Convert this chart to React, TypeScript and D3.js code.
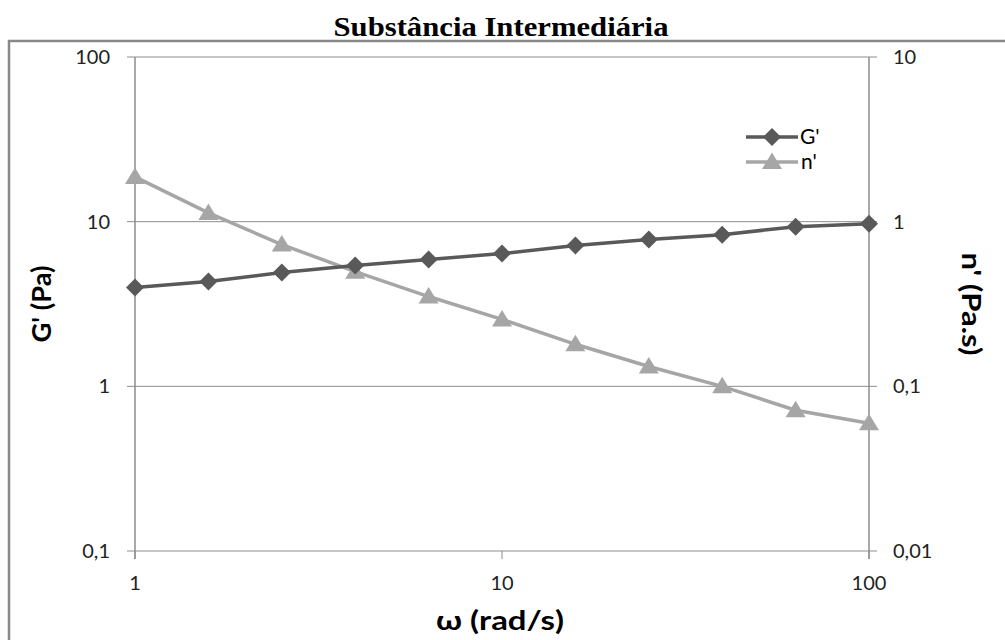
import * as d3 from "d3";
import React from "react";

// frequency sweep, 5 points per decade
const omega = [1, 1.585, 2.512, 3.981, 6.31, 10, 15.85, 25.12, 39.81, 63.1, 100];
const gPrime = [3.98, 4.33, 4.91, 5.41, 5.89, 6.4, 7.16, 7.78, 8.34, 9.32, 9.72];
const etaPrime = [1.87, 1.13, 0.726, 0.497, 0.351, 0.255, 0.18, 0.132, 0.1, 0.0716, 0.0597];

const xTicks = [1, 10, 100];
const leftTicks = [0.1, 1, 10, 100];
const rightTicks = [0.01, 0.1, 1, 10];

const W = 1005;
const H = 640;
const plot = { left: 135, right: 869, top: 57, bottom: 551 };

const DARK = "#595959";
const LIGHT = "#a6a6a6";
const GRID = "#8c8c8c";
const FONT = "Lato, 'Open Sans', sans-serif";

const fmt = (v: number) => String(v).replace(".", ",");

const diamond = (x: number, y: number, r: number) =>
    `M${x},${y - r}L${x + r},${y}L${x},${y + r}L${x - r},${y}Z`;
const triangle = (x: number, y: number, s: number) =>
    `M${x},${y - s * 0.95}L${x + s},${y + s * 0.7}L${x - s},${y + s * 0.7}Z`;

export default function App() {
    const x = d3.scaleLog().domain([1, 100]).range([plot.left, plot.right]);
    const yL = d3.scaleLog().domain([0.1, 100]).range([plot.bottom, plot.top]);
    const yR = d3.scaleLog().domain([0.01, 10]).range([plot.bottom, plot.top]);

    const gLine = d3.line<number>()
        .x((_, i) => x(omega[i]))
        .y(d => yL(d))(gPrime);
    const nLine = d3.line<number>()
        .x((_, i) => x(omega[i]))
        .y(d => yR(d))(etaPrime);

    const midY = (plot.top + plot.bottom) / 2;

    return (
        <svg width={W} height={H} style={{ position: "absolute", left: 0, top: 0, background: "#fff" }}>
            <rect x={9} y={41} width={1010} height={620} fill="none" stroke="#898989" strokeWidth={2.5} />

            <text x={501} y={36} textAnchor="middle" fontFamily="'Liberation Serif', 'Times New Roman', serif"
                fontWeight="bold" fontSize={27} textLength={335} lengthAdjust="spacingAndGlyphs">
                Substância Intermediária
            </text>

            {/* horizontal gridlines + tick marks both sides */}
            {leftTicks.map(t => (
                <line key={"g" + t} x1={plot.left - 8} x2={plot.right + 8} y1={yL(t)} y2={yL(t)}
                    stroke={GRID} strokeWidth={1} />
            ))}
            {/* axis lines */}
            <line x1={plot.left} x2={plot.left} y1={plot.top} y2={plot.bottom + 8} stroke={GRID} strokeWidth={1.5} />
            <line x1={plot.right} x2={plot.right} y1={plot.top} y2={plot.bottom + 8} stroke={GRID} strokeWidth={1.5} />
            {xTicks.map(t => (
                <line key={"xt" + t} x1={x(t)} x2={x(t)} y1={plot.bottom} y2={plot.bottom + 8}
                    stroke={GRID} strokeWidth={1} />
            ))}

            {/* tick labels */}
            {leftTicks.map(t => (
                <text key={"l" + t} x={plot.left - 25} y={yL(t)} dy="0.35em" textAnchor="end"
                    fontFamily={FONT} fontSize={20} fill="#222">{fmt(t)}</text>
            ))}
            {rightTicks.map(t => (
                <text key={"r" + t} x={plot.right + 24} y={yR(t)} dy="0.35em" textAnchor="start"
                    fontFamily={FONT} fontSize={20} fill="#222">{fmt(t)}</text>
            ))}
            {xTicks.map(t => (
                <text key={"x" + t} x={x(t)} y={plot.bottom + 32} dy="0.35em" textAnchor="middle"
                    fontFamily={FONT} fontSize={20} fill="#222">{fmt(t)}</text>
            ))}

            {/* axis titles */}
            <text x={500} y={630} textAnchor="middle" fontFamily={FONT} fontWeight="bold" fontSize={27}
                textLength={128} lengthAdjust="spacingAndGlyphs">ω (rad/s)</text>
            <text transform={`translate(51,${midY}) rotate(-90)`} textAnchor="middle"
                fontFamily={FONT} fontWeight="bold" fontSize={26}
                textLength={77} lengthAdjust="spacingAndGlyphs">G' (Pa)</text>
            <text transform={`translate(962,${midY}) rotate(90)`} textAnchor="middle"
                fontFamily={FONT} fontWeight="bold" fontSize={26}
                textLength={103} lengthAdjust="spacingAndGlyphs">n' (Pa.s)</text>

            {/* series */}
            <path d={nLine ?? ""} fill="none" stroke={LIGHT} strokeWidth={3.5} />
            {etaPrime.map((v, i) => (
                <path key={"n" + i} d={triangle(x(omega[i]), yR(v), 10)} fill={LIGHT} />
            ))}
            <path d={gLine ?? ""} fill="none" stroke={DARK} strokeWidth={3.5} />
            {gPrime.map((v, i) => (
                <path key={"d" + i} d={diamond(x(omega[i]), yL(v), 9)} fill={DARK} />
            ))}

            {/* legend */}
            <g fontFamily={FONT} fontSize={21}>
                <line x1={746} x2={798} y1={137} y2={137} stroke={DARK} strokeWidth={3.5} />
                <path d={diamond(772, 137, 9)} fill={DARK} />
                <text x={800} y={137} dy="0.35em">G'</text>
                <line x1={746} x2={798} y1={162} y2={162} stroke={LIGHT} strokeWidth={3.5} />
                <path d={triangle(772, 162, 10)} fill={LIGHT} />
                <text x={801} y={162} dy="0.35em">n'</text>
            </g>
        </svg>
    );
}
